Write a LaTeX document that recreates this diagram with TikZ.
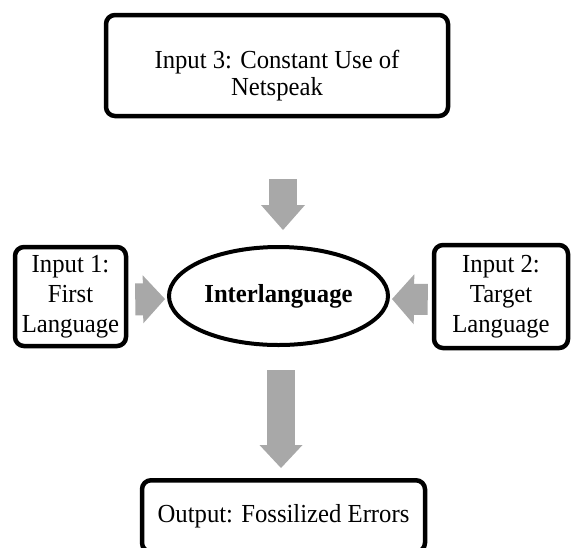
\documentclass[tikz,border=0pt]{standalone}
\usepackage{fontspec}
\setmainfont{Liberation Serif}[FakeStretch=0.95]
\usetikzlibrary{arrows.meta,shapes.geometric}
\definecolor{arrowgray}{RGB}{168,168,168}

\begin{document}
\begin{tikzpicture}[x=1pt, y=-1pt,
        inbox/.style={draw=black, line width=4.5pt, rounded corners=9pt, align=center, inner sep=0pt, font=\fontsize{26}{30}\selectfont},
        fatarrow/.style={draw=arrowgray, line width=#1}]
                \clip (0,0) rectangle (572,547);
                \node[inbox, minimum width=342pt, minimum height=101pt, font=\fontsize{26}{27}\selectfont] (input3) at (277,65.5) {\rule{0pt}{38pt}Input 3: Constant Use of\\Netspeak};
                \node[inbox, minimum width=111pt, minimum height=99pt] (input1) at (70.5,296.5) {Input 1:\\First\\Language};
                \node[inbox, minimum width=134pt, minimum height=103pt] (input2) at (501,296.5) {Input 2:\\Target\\Language};
                \node[draw=black, ellipse, line width=4pt, minimum width=219pt, minimum height=98pt, inner sep=0pt, font=\fontsize{26}{30}\selectfont\bfseries] (inter) at (278.5,296) {Interlanguage};
                \node[inbox, minimum width=283pt, minimum height=71.5pt] (output) at (283.5,516) {Output: Fossilized Errors};
                \draw[fatarrow=28pt, -{Triangle[length=25pt, width=44pt, line width=0pt]}, shorten <=61pt, shorten >=15pt]
                    ([xshift=6pt]input3.south) -- ([xshift=4.5pt]inter.north);
                \draw[fatarrow=32pt, -{Triangle[length=22pt, width=48pt, line width=0pt]}, shorten <=7pt, shorten >=2pt]
                    ([yshift=-3pt]input1.east) -- ([yshift=-3pt]inter.west);
                \draw[fatarrow=31pt, -{Triangle[length=22pt, width=50pt, line width=0pt]}, shorten <=4pt, shorten >=2pt]
                    ([yshift=-3pt]input2.west) -- ([yshift=-3pt]inter.east);
                \draw[fatarrow=28pt, -{Triangle[length=23pt, width=43pt, line width=0pt]}, shorten <=23pt, shorten >=10pt]
                    ([xshift=2.5pt]inter.south) -- ([xshift=-2.5pt]output.north);
            \end{tikzpicture}
\end{document}
